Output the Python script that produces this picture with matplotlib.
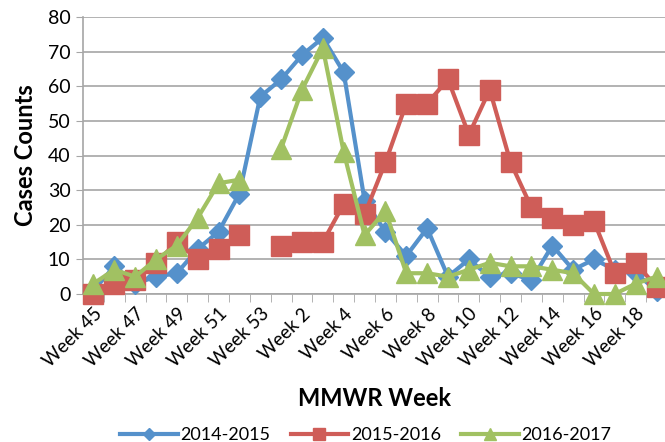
import numpy as np
import matplotlib
matplotlib.use("Agg")
import matplotlib.pyplot as plt

weeks = [f"Week {w}" for w in list(range(45, 54)) + list(range(1, 20))]

s2014_2015 = [1, 8, 3, 5, 6, 13, 18, 29, 57, 62, 69, 74, 64, 27, 18, 11, 19, 5, 10, 5,
              6, 4, 14, 7, 10, 7, 6, 1]
s2015_2016 = [0, 3, 4, 9, 15, 10, 13, 17, np.nan, 14, 15, 15, 26, 23, 38, 55, 55, 62, 46, 59,
              38, 25, 22, 20, 21, 6, 9, 2]
s2016_2017 = [3, 7, 5, 10, 14, 22, 32, 33, np.nan, 42, 59, 71, 41, 17, 24, 6, 6, 5, 7, 9,
              8, 8, 7, 6, 0, 0, 3, 5]

plt.rcParams["font.family"] = ["Lato", "DejaVu Sans"]

fig = plt.figure(figsize=(6.65, 4.42), dpi=100)
ax = fig.add_axes([83 / 665, 148 / 442, 584 / 665, 277 / 442])

x = np.arange(len(weeks))
ax.plot(x, s2014_2015, color="#5591CB", lw=3, marker="D", ms=10, label="2014-2015",
        zorder=3, clip_on=False)
ax.plot(x, s2015_2016, color="#CF5D58", lw=3, marker="s", ms=14, label="2015-2016",
        zorder=3, clip_on=False)
ax.plot(x, s2016_2017, color="#A1C162", lw=3, marker="^", ms=14, label="2016-2017",
        zorder=4, clip_on=False)

ax.set_xlim(-0.5, len(weeks) - 0.5)
ax.set_ylim(0, 80)
ax.set_yticks(range(0, 81, 10))
ax.yaxis.grid(True, color="#A6A6A6", lw=1.2)
ax.set_axisbelow(True)

ax.set_xticks(x[::2])
ax.set_xticklabels(weeks[::2], rotation=45, ha="right", rotation_mode="anchor", fontsize=13.5)
ax.set_xticks(np.arange(-0.5, len(weeks), 1), minor=True)
ax.tick_params(axis="x", which="major", length=0, pad=8)
ax.tick_params(axis="x", which="minor", length=6, color="#A6A6A6", direction="out")
ax.tick_params(axis="y", length=5, color="#A6A6A6", labelsize=14, pad=4)

for side in ["top", "right"]:
    ax.spines[side].set_visible(False)
for side in ["left", "bottom"]:
    ax.spines[side].set_color("#A6A6A6")
    ax.spines[side].set_linewidth(1.2)

ax.set_ylabel("Cases Counts", fontsize=17, fontweight="bold", labelpad=8)
ax.set_xlabel("MMWR Week", fontsize=17, fontweight="bold", labelpad=12)

leg = fig.legend(loc="lower center", bbox_to_anchor=(0.55, -0.04), ncol=3, frameon=False,
                 fontsize=13, handlelength=3.2, columnspacing=1.1, handletextpad=0.15,
                 markerscale=0.6)

fig.savefig("out.png", dpi=100)
